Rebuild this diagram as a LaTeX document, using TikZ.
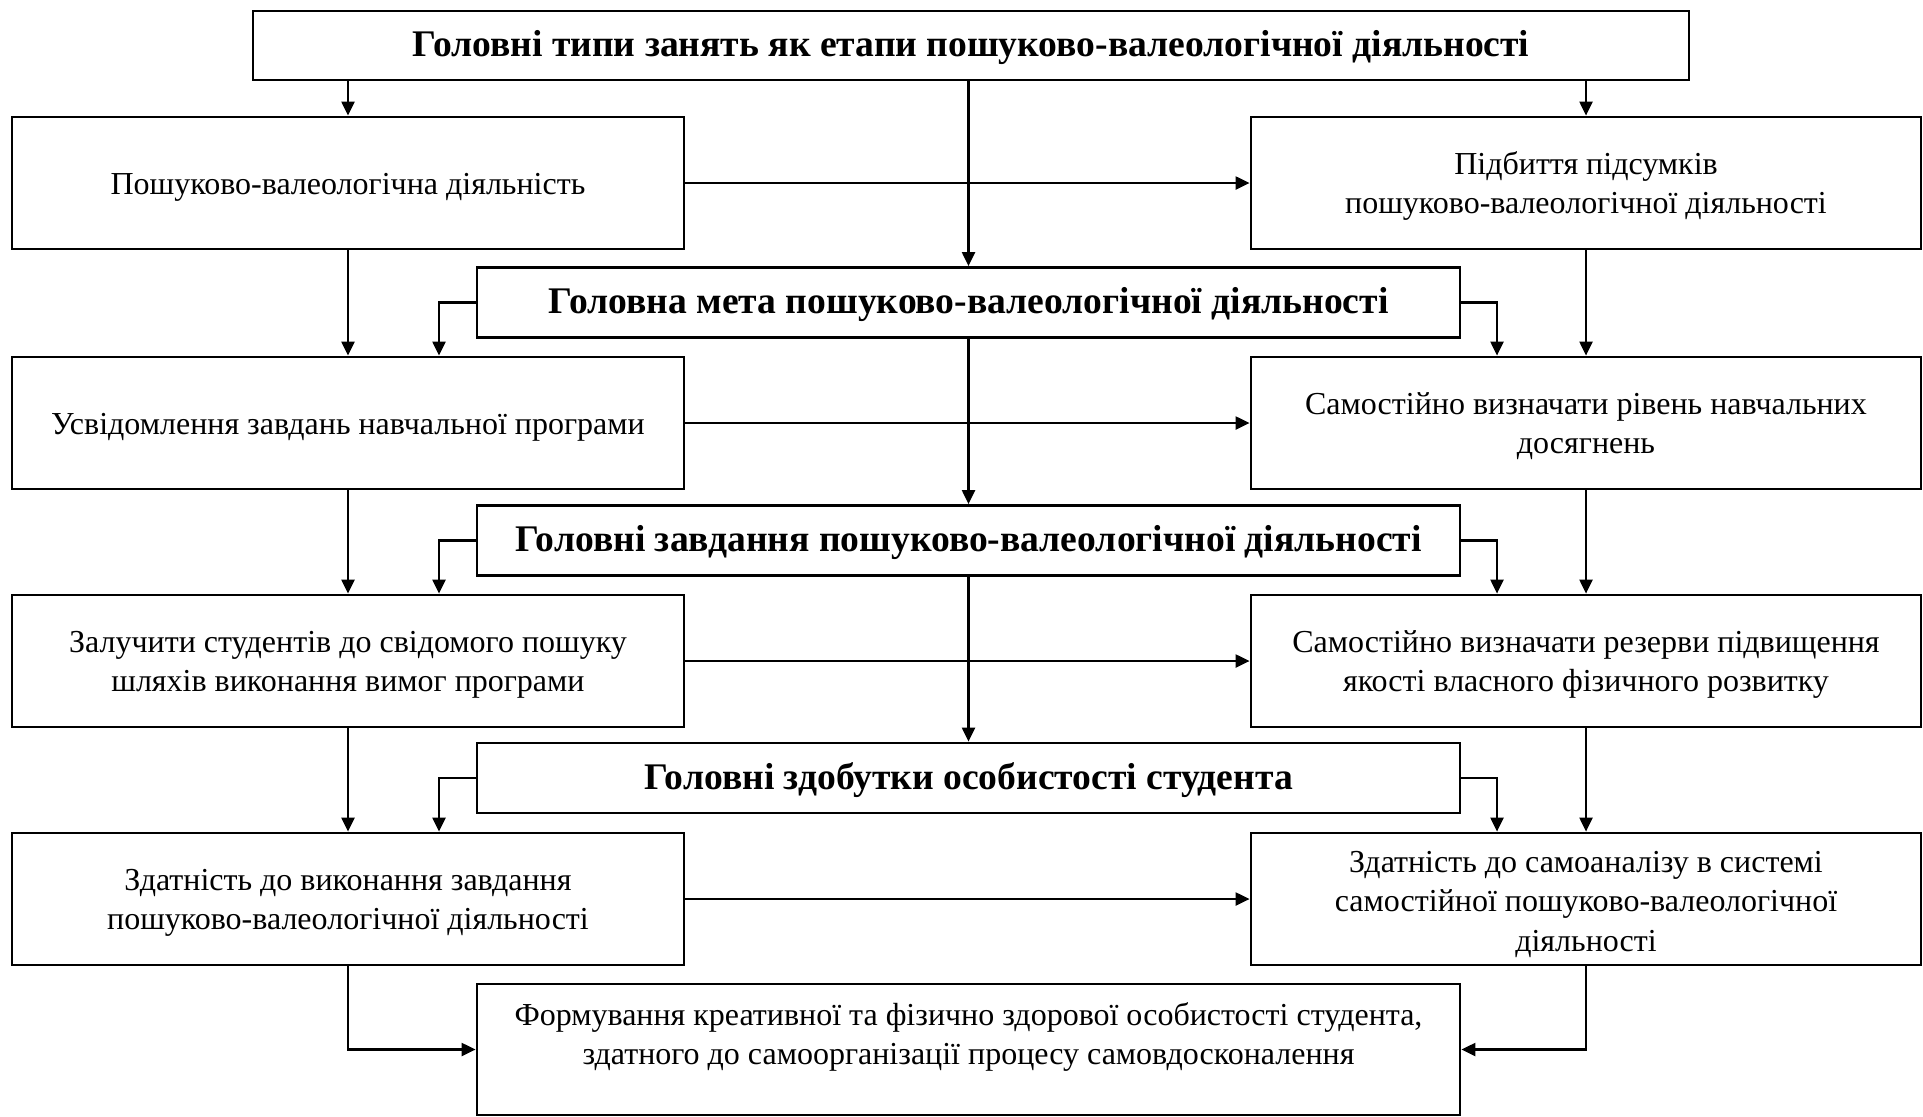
\documentclass[tikz,border=0pt]{standalone}
\usepackage{fontspec}
\setmainfont{Liberation Serif}
\usetikzlibrary{arrows.meta,calc}
\newcommand{\mlines}[2][-1.5pt]{\raisebox{#1}[\height][\depth]{\begin{tabular}{@{}c@{}}#2\end{tabular}}}
\tikzset{
  box/.style={draw, line width=1.4pt, rectangle, inner sep=0pt, align=center,
    font=\fontsize{16}{19.6}\selectfont},
  oneline/.style={text height=11pt, text depth=0pt},
  sidebox/.style={box, minimum height=66pt},
  lbox/.style={sidebox, minimum width=336pt},
  rbox/.style={sidebox, minimum width=335pt},
  titlefont/.style={font=\fontsize{18.8}{22}\selectfont\bfseries},
  cbox/.style={box, minimum width=491.5pt, minimum height=35pt, titlefont, oneline},
  arr/.style={line width=1.1pt, -{Triangle[length=7pt,width=6.5pt]}},
}
\begin{document}
\begin{tikzpicture}[x=0.5pt,y=-0.5pt]
\useasboundingbox (0,0) rectangle (1923,1116);
\node[box, minimum width=718pt, minimum height=34.5pt, titlefont, oneline] (top) at (971,45.5)
  {Головні типи занять як етапи пошуково-валеологічної діяльності};
\node[lbox, oneline] (L1) at (348,183) {Пошуково-валеологічна діяльність};
\node[rbox] (R1) at (1586,183) {\mlines{Підбиття підсумків\\пошуково-валеологічної діяльності}};
\node[cbox] (C1) at (968.5,302.5) {Головна мета пошуково-валеологічної діяльності};
\node[lbox, oneline] (L2) at (348,423) {Усвідомлення завдань навчальної програми};
\node[rbox] (R2) at (1586,423) {\mlines{Самостійно визначати рівень навчальних\\досягнень}};
\node[cbox] (C2) at (968.5,540.5) {Головні завдання пошуково-валеологічної діяльності};
\node[lbox] (L3) at (348,661) {\mlines{Залучити студентів до свідомого пошуку\\шляхів виконання вимог програми}};
\node[rbox] (R3) at (1586,661) {\mlines{Самостійно визначати резерви підвищення\\якості власного фізичного розвитку}};
\node[cbox] (C3) at (968.5,778) {Головні здобутки особистості студента};
\node[lbox] (L4) at (348,899) {\mlines{Здатність до виконання завдання\\пошуково-валеологічної діяльності}};
\node[rbox] (R4) at (1586,899) {\mlines[-2.5pt]{Здатність до самоаналізу в системі\\самостійної пошуково-валеологічної\\діяльності}};
\node[box, minimum width=491.5pt, minimum height=65.5pt] (F) at (968.5,1049.5)
  {\mlines[6pt]{Формування креативної та фізично здорової особистості студента,\\здатного до самоорганізації процесу самовдосконалення}};

% top box to columns
\draw[arr] (top.south -| L1.north) -- (L1.north);
\draw[arr] (top.south -| R1.north) -- (R1.north);
\draw[arr] (top.south -| C1.north) -- (C1.north);
% center chain
\draw[arr] (C1.south) -- (C2.north);
\draw[arr] (C2.south) -- (C3.north);
% left and right columns
\draw[arr] (L1.south) -- (L2.north);
\draw[arr] (L2.south) -- (L3.north);
\draw[arr] (L3.south) -- (L4.north);
\draw[arr] (R1.south) -- (R2.north);
\draw[arr] (R2.south) -- (R3.north);
\draw[arr] (R3.south) -- (R4.north);
% horizontal
\draw[arr] (L1.east) -- (R1.west);
\draw[arr] (L2.east) -- (R2.west);
\draw[arr] (L3.east) -- (R3.west);
\draw[arr] (L4.east) -- (R4.west);
% side connectors
\draw[arr] (C1.west) -| ($(L2.north)+(91,0)$);
\draw[arr] (C2.west) -| ($(L3.north)+(91,0)$);
\draw[arr] (C3.west) -| ($(L4.north)+(91,0)$);
\draw[arr] (C1.east) -| ($(R2.north)+(-89,0)$);
\draw[arr] (C2.east) -| ($(R3.north)+(-89,0)$);
\draw[arr] (C3.east) -| ($(R4.north)+(-89,0)$);
% to final
\draw[arr] (L4.south) |- (F.west);
\draw[arr] (R4.south) |- (F.east);
\end{tikzpicture}
\end{document}
